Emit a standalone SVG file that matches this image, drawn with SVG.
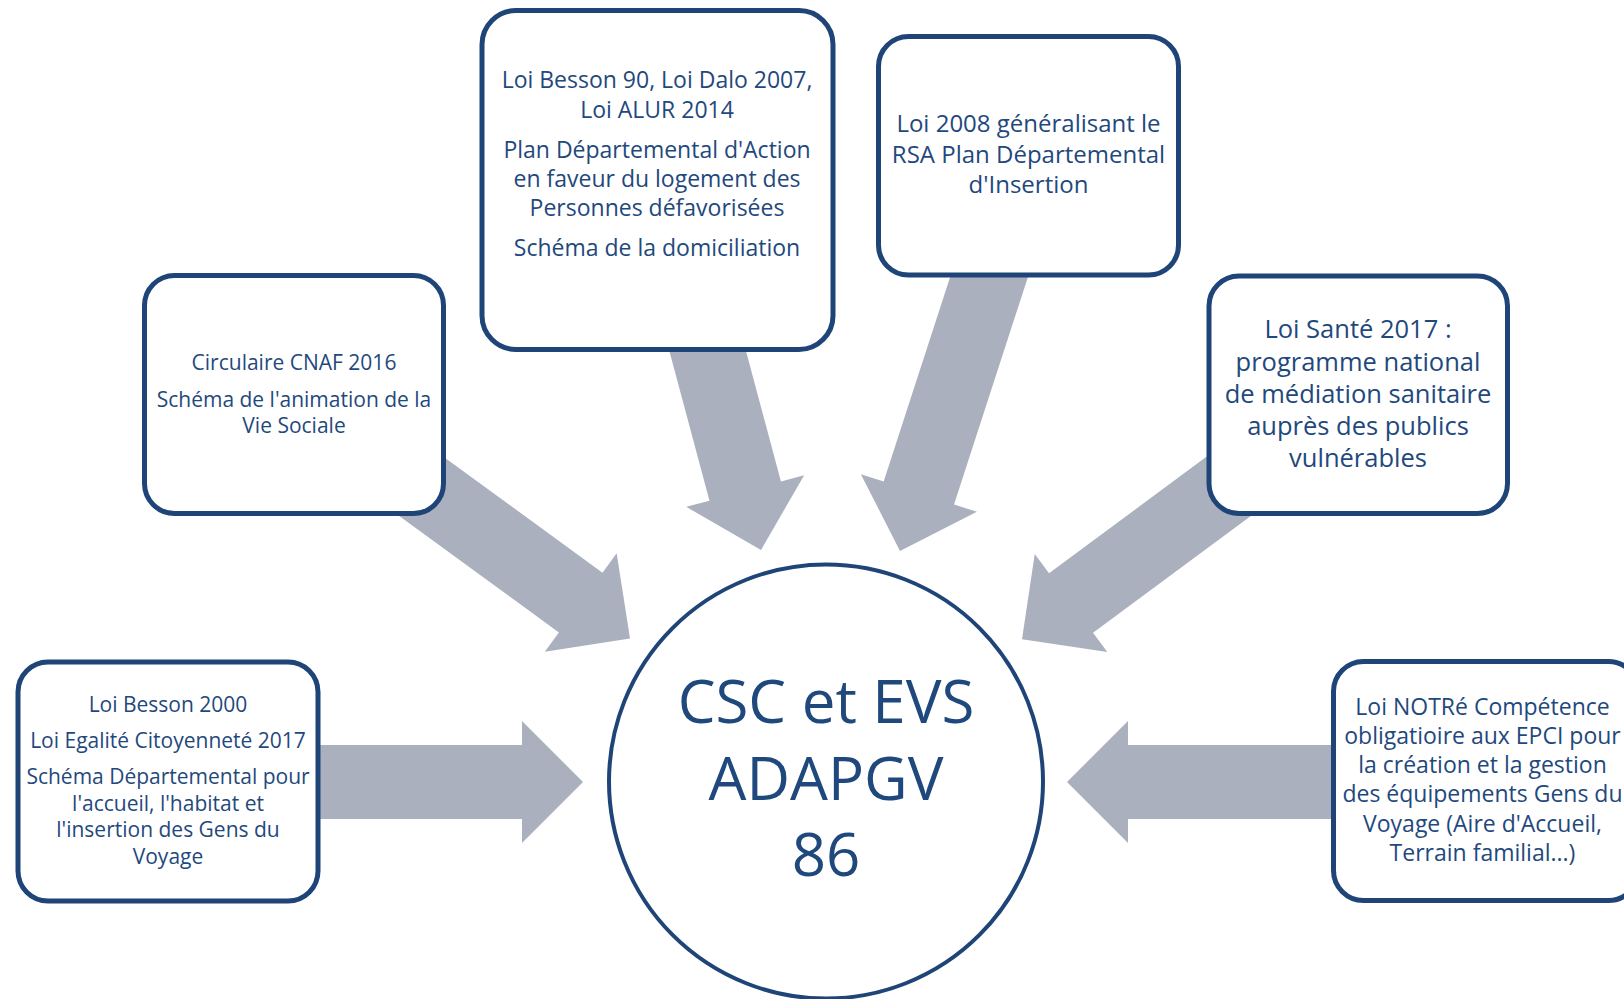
<svg xmlns="http://www.w3.org/2000/svg" width="1624" height="999" viewBox="0 0 1624 999">
<style>
.bg{fill:#ffffff}
.arrow{fill:#AAB0BE;stroke:none}
.box{fill:#ffffff;stroke:#1F4578;stroke-width:5}
.hub{fill:#ffffff;stroke:#1F4578;stroke-width:4}
text{font-family:"Open Sans","Noto Sans",sans-serif;fill:#1F497D;text-anchor:middle}
.t21{font-size:21px}
.t23{font-size:23px}
.t24{font-size:24px}
.t25{font-size:25.5px}
.big{font-size:60px}
</style>
<rect class="bg" x="0" y="0" width="1624" height="999"/>
<g id="connectors">
  <polygon class="arrow" transform="translate(583,782)" points="0,0 -61,-61 -61,-37 -283,-37 -283,37 -61,37 -61,61"/>
  <polygon class="arrow" transform="translate(630,638.5) rotate(36.1)" points="0,0 -61,-61 -61,-37 -280,-37 -280,37 -61,37 -61,61"/>
  <polygon class="arrow" transform="translate(761,550) rotate(75)" points="0,0 -61,-61 -61,-37 -240,-37 -240,37 -61,37 -61,61"/>
  <polygon class="arrow" transform="translate(900,551) rotate(108)" points="0,0 -61,-61 -61,-37 -316,-37 -316,37 -61,37 -61,61"/>
  <polygon class="arrow" transform="translate(1022,639.3) rotate(143.5)" points="0,0 -61,-61 -61,-37 -300,-37 -300,37 -61,37 -61,61"/>
  <polygon class="arrow" transform="translate(1067,782) rotate(180)" points="0,0 -61,-61 -61,-37 -283,-37 -283,37 -61,37 -61,61"/>
</g>
<g id="node-besson2000">
  <rect class="box" x="18" y="662" width="300" height="239" rx="30"/>
  <text class="t21" x="168" y="711.5">Loi Besson 2000</text>
  <text class="t21" x="168" y="747.8">Loi Egalité Citoyenneté 2017</text>
  <text class="t21" x="168" y="784">Schéma Départemental pour</text>
  <text class="t21" x="168" y="810.8">l'accueil, l'habitat et</text>
  <text class="t21" x="168" y="837.4">l'insertion des Gens du</text>
  <text class="t21" x="168" y="864">Voyage</text>
</g>
<g id="node-cnaf">
  <rect class="box" x="144.5" y="275.5" width="299" height="238" rx="30"/>
  <text class="t21" x="294" y="370">Circulaire CNAF 2016</text>
  <text class="t21" x="294" y="406.7">Schéma de l'animation de la</text>
  <text class="t21" x="294" y="433.3">Vie Sociale</text>
</g>
<g id="node-logement">
  <rect class="box" x="482" y="10.5" width="351" height="339" rx="34"/>
  <text class="t23" x="657" y="87.5">Loi Besson 90, Loi Dalo 2007,</text>
  <text class="t23" x="657" y="117.5">Loi ALUR 2014</text>
  <text class="t23" x="657" y="157.5">Plan Départemental d'Action</text>
  <text class="t23" x="657" y="186.5">en faveur du logement des</text>
  <text class="t23" x="657" y="215.5">Personnes défavorisées</text>
  <text class="t23" x="657" y="256">Schéma de la domiciliation</text>
</g>
<g id="node-rsa">
  <rect class="box" x="878.5" y="36.5" width="300" height="238.5" rx="30"/>
  <text class="t24" x="1028.5" y="132">Loi 2008 généralisant le</text>
  <text class="t24" x="1028.5" y="163">RSA Plan Départemental</text>
  <text class="t24" x="1028.5" y="193">d'Insertion</text>
</g>
<g id="node-sante">
  <rect class="box" x="1209" y="276" width="298.5" height="237.5" rx="30"/>
  <text class="t25" x="1358" y="338">Loi Santé 2017 :</text>
  <text class="t25" x="1358" y="370.5">programme national</text>
  <text class="t25" x="1358" y="402.5">de médiation sanitaire</text>
  <text class="t25" x="1358" y="434.5">auprès des publics</text>
  <text class="t25" x="1358" y="466.5">vulnérables</text>
</g>
<g id="node-notre">
  <rect class="box" x="1333.5" y="661.5" width="305" height="239" rx="30"/>
  <text class="t23" x="1482.5" y="715">Loi NOTRé Compétence</text>
  <text class="t23" x="1482.5" y="744">obligatioire aux EPCI pour</text>
  <text class="t23" x="1482.5" y="773">la création et la gestion</text>
  <text class="t23" x="1482.5" y="802">des équipements Gens du</text>
  <text class="t23" x="1482.5" y="831.5">Voyage (Aire d'Accueil,</text>
  <text class="t23" x="1482.5" y="860.5">Terrain familial...)</text>
</g>
<g id="node-center">
  <circle class="hub" cx="826" cy="781.5" r="217"/>
  <text class="big" x="826" y="723">CSC et EVS</text>
  <text class="big" x="826" y="800">ADAPGV</text>
  <text class="big" x="826" y="876">86</text>
</g>
</svg>
